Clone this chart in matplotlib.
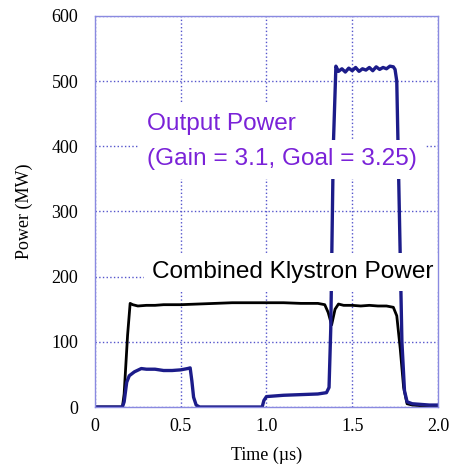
import numpy as np
import matplotlib
matplotlib.use('Agg')
import matplotlib.pyplot as plt

# combined klystron power (black)
t_klys = [0.0, 0.16, 0.17, 0.19, 0.205, 0.22, 0.25, 0.3, 0.35, 0.4, 0.5, 0.6, 0.7,
          0.8, 0.9, 1.0, 1.1, 1.2, 1.3, 1.34, 1.36, 1.38, 1.40, 1.42, 1.45, 1.5,
          1.55, 1.6, 1.65, 1.7, 1.74, 1.76, 1.78, 1.80, 1.82, 1.85, 1.9, 2.0]
p_klys = [0, 0, 20, 110, 159, 157, 155, 156, 156, 157, 157, 158, 159,
          160, 160, 160, 160, 159, 159, 157, 145, 126, 150, 158, 156, 156,
          155, 156, 155, 155, 153, 140, 90, 30, 5, 3, 2, 1]

# output power (blue)
t_out = [0.0, 0.16, 0.17, 0.185, 0.2, 0.23, 0.27, 0.3, 0.35, 0.4, 0.45, 0.5, 0.54,
         0.555, 0.565, 0.575, 0.59, 0.61, 0.7, 0.8, 0.9, 0.975, 0.985, 1.0, 1.1,
         1.2, 1.3, 1.35, 1.365, 1.375, 1.39, 1.405, 1.42, 1.44, 1.46, 1.48, 1.5,
         1.52, 1.54, 1.56, 1.58, 1.6, 1.62, 1.64, 1.66, 1.68, 1.70, 1.72, 1.74,
         1.75, 1.76, 1.775, 1.79, 1.805, 1.82, 1.85, 1.9, 1.95, 2.0]
p_out = [0, 0, 8, 38, 48, 54, 59, 58, 58, 56, 56, 57, 59,
         60, 40, 15, 3, 0, 0, 0, 0, 0, 10, 16, 18,
         19, 20, 22, 30, 120, 400, 523, 515, 519, 514, 520, 516,
         521, 515, 519, 517, 521, 516, 522, 518, 521, 519, 523, 522,
         518, 500, 300, 100, 25, 8, 5, 4, 3, 3]

xticks = [0, 0.5, 1.0, 1.5, 2.0]
xtick_labels = ['0', '0.5', '1.0', '1.5', '2.0']
yticks = [0, 100, 200, 300, 400, 500, 600]

fig = plt.figure(figsize=(4.6, 4.66), dpi=100)
ax = fig.add_axes([0.2065, 0.1266, 0.7455, 0.8391])

ax.plot(t_klys, p_klys, color='black', lw=2.0, zorder=3)
ax.plot(t_out, p_out, color='#1c1c8a', lw=2.4, zorder=4)

ax.set_xlim(0, 2.0)
ax.set_ylim(0, 600)
ax.set_xticks(xticks)
ax.set_xticklabels(xtick_labels)
ax.set_yticks(yticks)
ax.grid(True, linestyle=':', color='#5555cc', lw=1.0)
ax.tick_params(axis='x', length=0, labelsize=13, pad=8)
ax.tick_params(axis='y', length=0, labelsize=13, pad=12)
for lab in ax.get_xticklabels() + ax.get_yticklabels():
    lab.set_family('Liberation Serif')
for s in ax.spines.values():
    s.set_color('#8a8ae0')
    s.set_linewidth(1.0)
    s.set_zorder(6)

ax.set_xlabel('Time (µs)', family='Liberation Serif', fontsize=13, labelpad=8)
ax.set_ylabel('Power (MW)', family='Liberation Serif', fontsize=13, labelpad=13)

box = dict(facecolor='white', edgecolor='none', pad=6)
ax.text(0.305, 435, 'Output Power', color='#7a22d8', fontsize=17.6,
        family='Liberation Sans', va='center', bbox=box, zorder=5)
ax.text(0.305, 380, '(Gain = 3.1, Goal = 3.25)', color='#7a22d8', fontsize=17.6,
        family='Liberation Sans', va='center', bbox=box, zorder=5)
ax.text(0.335, 207, 'Combined Klystron Power', color='black', fontsize=17.6,
        family='Liberation Sans', va='center', bbox=box, zorder=5)

fig.savefig('out.png', dpi=100)
